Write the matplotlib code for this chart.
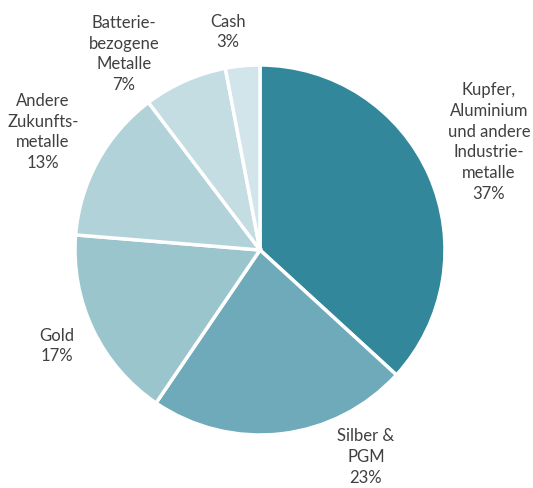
import matplotlib.pyplot as plt

plt.rcParams["font.family"] = ["Lato", "DejaVu Sans"]

labels = [
    "Kupfer,\nAluminium\nund andere\nIndustrie-\nmetalle",
    "Silber &\nPGM",
    "Gold",
    "Andere\nZukunfts-\nmetalle",
    "Batterie-\nbezogene\nMetalle",
    "Cash",
]
# slice sizes; labels show the rounded percentages
shares = [36.8, 22.7, 16.8, 13.4, 7.3, 3.0]
colors = ["#33879b", "#6faaba", "#9bc5cd", "#b1d2d8", "#c4dde3", "#d1e5ea"]

# label centres in pixel coordinates (x from left, y from top)
label_pos = [(489, 142), (366, 457), (57, 346), (43, 132), (124, 54), (228, 32)]

W, H = 533, 488
fig = plt.figure(figsize=(W / 100, H / 100), dpi=100)
ax = fig.add_axes([0, 0, 1, 1])

ax.pie(
    shares,
    colors=colors,
    startangle=90,
    counterclock=False,
    center=(260, H - 250),
    radius=185,
    wedgeprops=dict(edgecolor="white", linewidth=2.5),
    frame=True,
)
ax.set_xlim(0, W)
ax.set_ylim(0, H)
ax.set_aspect("equal")
ax.axis("off")

for lab, val, (x, y) in zip(labels, shares, label_pos):
    ax.text(x, H - y, f"{lab}\n{round(val)}%", ha="center", va="center",
            fontsize=12, color="#404040", linespacing=1.38)

plt.savefig("out.png", dpi=100)
